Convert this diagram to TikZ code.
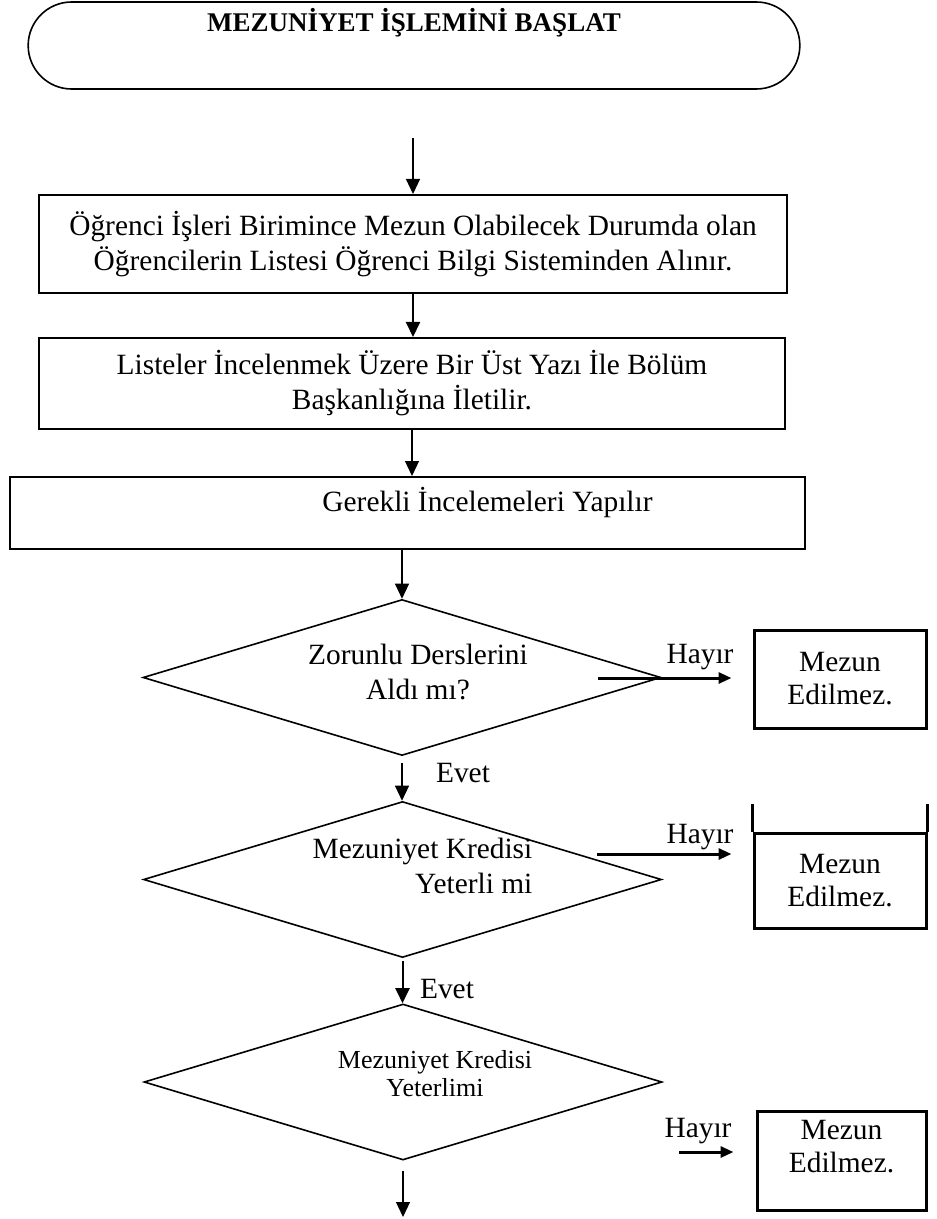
\documentclass[tikz,border=0pt]{standalone}
\usepackage{fontspec}
\setmainfont{Liberation Serif}
\usetikzlibrary{shapes.geometric,shapes.misc,arrows.meta}

\begin{document}
\begin{tikzpicture}[x=0.5pt, y=-0.5pt,
    font=\fontsize{14.7}{17.5}\selectfont,
    >={Triangle[length=7.5pt,width=7pt]},
    islem/.style={draw, line width=1pt, align=center, inner sep=0pt},
    karar/.style={draw, diamond, shape aspect=3.3, line width=0.8pt, inner sep=0pt, minimum width=259pt, minimum height=78pt},
    sonuc/.style={draw, line width=1.5pt, align=center, inner sep=0pt, minimum width=86pt, font=\fontsize{14.7}{16.5}\selectfont},
    ok/.style={->, line width=0.6pt},
    hayirok/.style={-{Triangle[length=6.5pt,width=5.5pt]}, line width=1.5pt}]
    \useasboundingbox (0,0) rectangle (936,1219);

    % Start
    \node[draw, rounded rectangle, line width=0.8pt, minimum width=392.5pt, minimum height=43.5pt,
      label={[yshift=11.5pt, font=\fontsize{13.5}{16}\selectfont\bfseries]center:MEZUNİYET İŞLEMİNİ BAŞLAT}] (basla) at (414,45.5) {};

    % Steps
    \node[islem, minimum width=374pt, minimum height=49pt] (liste) at (413,244) {Öğrenci İşleri Birimince Mezun Olabilecek Durumda olan\\Öğrencilerin Listesi Öğrenci Bilgi Sisteminden Alınır.};
    \node[islem, minimum width=373pt, minimum height=45.5pt] (yazi) at (412,383.5) {Listeler İncelenmek Üzere Bir Üst Yazı İle Bölüm\\Başkanlığına İletilir.};
    \node[islem, minimum width=397.5pt, minimum height=36pt,
      label={[xshift=40pt, yshift=5.5pt]center:Gerekli İncelemeleri Yapılır}] (inceleme) at (407.5,513) {};

    % Decisions
    \node[karar, label={[xshift=8pt, yshift=2.5pt, align=center]center:Zorunlu Derslerini\\Aldı mı?}] (zorunlu) at (402,677.5) {};
    \node[karar, label={[xshift=10pt, yshift=7pt, align=right]center:Mezuniyet Kredisi\\Yeterli mi}] (kredi) at (402.5,879.5) {};
    \node[karar, label={[xshift=16pt, yshift=4pt, align=center, font=\fontsize{13}{14}\selectfont]center:Mezuniyet Kredisi\\Yeterlimi}] (kredi2) at (403,1082) {};

    % Results
    \node[sonuc, minimum height=49pt] (red1) at (840,679) {Mezun\\Edilmez.};
    \node[sonuc, minimum height=47.5pt] (red2) at (840,880.5) {Mezun\\Edilmez.};
    \node[sonuc, minimum width=84.5pt, minimum height=49.5pt,
      label={[yshift=7pt, align=center, font=\fontsize{14.7}{16.5}\selectfont]center:Mezun\\Edilmez.}] (red3) at (841.5,1160.5) {};
    \draw[line width=1.5pt] (red2.north west) -- ++(0,-28);
    \draw[line width=1.5pt] (red2.north east) -- ++(0,-28);

    % Labels
    \node (hayir1) at (700,657) {Hayır};
    \node (hayir2) at (700,837) {Hayır};
    \node (hayir3) at (698,1131) {Hayır};
    \node (evet1) at (463,773) {Evet};
    \node (evet2) at (447,989) {Evet};

    % Arrows
    \coordinate (giris) at (413,138);
    \coordinate (cikis) at (403,1217);
    \draw[ok] (giris) -- (liste.north);
    \draw[->, line width=1pt] (liste.south) -- (liste.south |- yazi.north);
    \draw[ok] (yazi.south) -- (yazi.south |- inceleme.north);
    \draw[ok] (zorunlu.north |- inceleme.south) -- (zorunlu.north);
    \draw[ok, shorten <=3.5pt] (zorunlu.south) -- (zorunlu.south |- kredi.north);
    \draw[->, line width=1pt, shorten <=1.5pt] (kredi.south) -- (kredi.south |- kredi2.north);
    \draw[ok, shorten <=5pt] (kredi2.south) -- (cikis);

    % No branches
    \coordinate (h1) at (598,678);
    \coordinate (h2) at (597,854);
    \coordinate (h3) at (679,1152);
    \draw[hayirok, shorten >=10.5pt] (h1) -- (h1 -| red1.west);
    \draw[hayirok, shorten >=10.5pt] (h2) -- (h2 -| red2.west);
    \draw[hayirok, shorten >=11pt] (h3) -- (h3 -| red3.west);
\end{tikzpicture}
\end{document}
